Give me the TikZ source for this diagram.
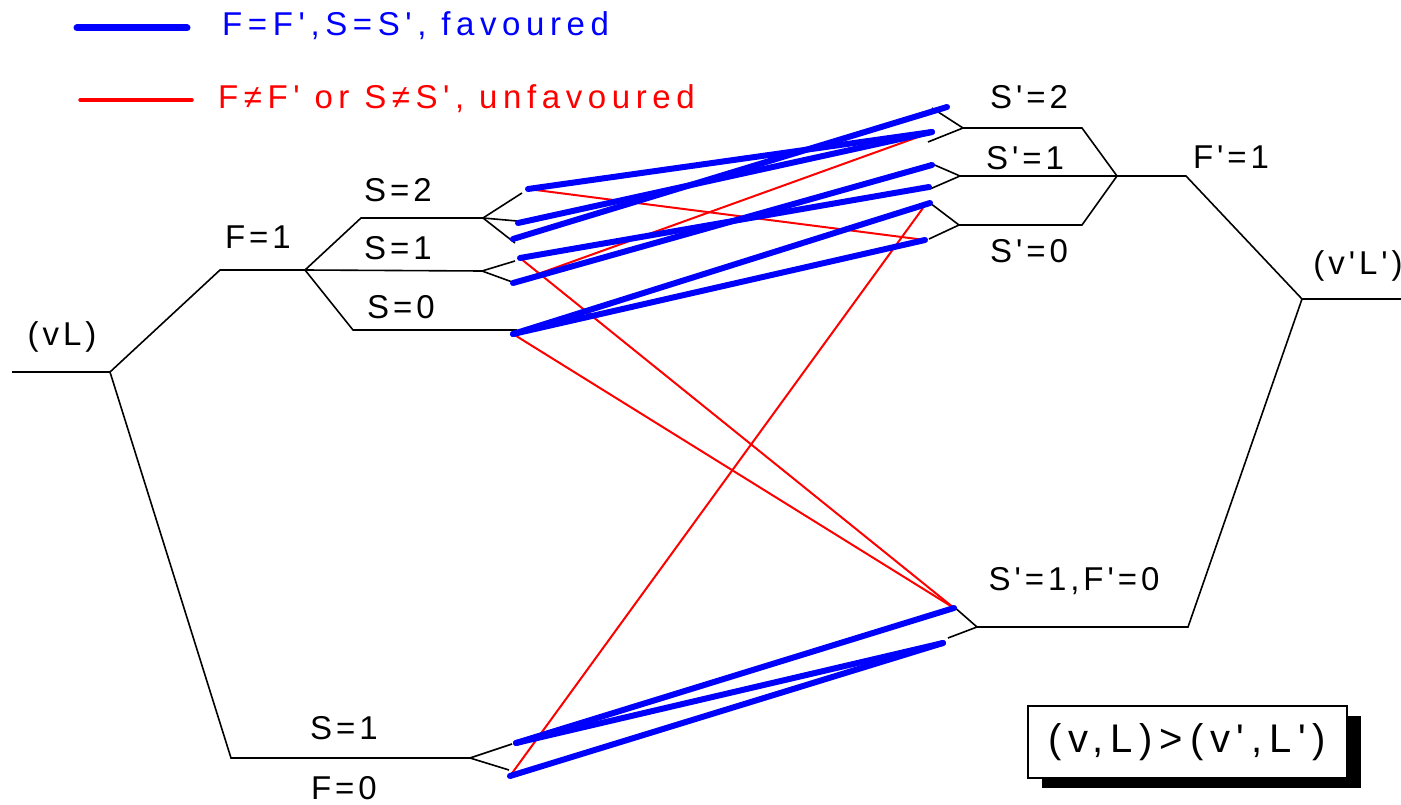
\documentclass[tikz,border=0pt]{standalone}
\usepackage{fontspec}
\usetikzlibrary{shadows}
\newfontfamily\labfont{Liberation Sans}[LetterSpace=12]
\newfontfamily\legfont{Liberation Sans}[LetterSpace=17]
\definecolor{favblue}{RGB}{0,0,255}
\definecolor{unfred}{RGB}{255,0,0}
\begin{document}
\begin{tikzpicture}[x=1pt,y=-1pt,
  level/.style={line width=1.6pt, black},
  fav/.style={line width=6pt, favblue, line cap=round},
  unf/.style={line width=2pt, unfred},
  lab/.style={font=\labfont\fontsize{33}{38}\selectfont, inner sep=0pt},
  legtext/.style={font=\legfont\fontsize{33}{38}\selectfont, inner sep=0pt, anchor=west}]
\useasboundingbox (0,0) rectangle (1401,805);
% ---------- left levels ----------
\coordinate (vLl) at (12,372);
\coordinate (vL) at (110,372);
\coordinate (F1l) at (220,270);
\coordinate (F1r) at (305,270);
\coordinate (F0l) at (231,758);
\coordinate (F0r) at (470,758);
\coordinate (S2l) at (361,218);
\coordinate (S2r) at (483,218);
\coordinate (S1r) at (482,271);
\coordinate (S0l) at (353,330);
\coordinate (S0r) at (517,330);
% sublevel tips (left)
\coordinate (ta1) at (522,193);
\coordinate (ta2) at (517,221);
\coordinate (ta3) at (515,243);
\coordinate (tb1) at (515,261);
\coordinate (tb2) at (515,283);
\coordinate (td1) at (512,744);
\coordinate (td2) at (509,770);
% ---------- right levels ----------
\coordinate (Sp2l) at (963,128);
\coordinate (Sp2r) at (1082,128);
\coordinate (Sp1l) at (960,176);
\coordinate (Fp1l) at (1117,176);
\coordinate (Fp1r) at (1186,176);
\coordinate (Sp0l) at (959,225);
\coordinate (Sp0r) at (1082,225);
\coordinate (vpL) at (1302,299);
\coordinate (vpLr) at (1401,299);
\coordinate (Fp0r) at (1188,627);
\coordinate (Fp0l) at (977,627);
\coordinate (tA1) at (932,108);
\coordinate (tA2) at (928,142);
\coordinate (tB1) at (930,163);
\coordinate (tB2) at (930,189);
\coordinate (tC1) at (930,203);
\coordinate (tC2) at (929,239);
\coordinate (tD1) at (953,606);
\coordinate (tD2) at (948,638);
% ---------- transition end points ----------
\coordinate (a1) at (528,189);
\coordinate (a2) at (518,223);
\coordinate (a3) at (513,239);
\coordinate (b1) at (520,258);
\coordinate (b2) at (513,283);
\coordinate (c)  at (513,334);
\coordinate (d1) at (516,743);
\coordinate (d2) at (510,776);
\coordinate (A1) at (947,107);
\coordinate (A2) at (932,132);
\coordinate (B1) at (932,165);
\coordinate (B2) at (929,187);
\coordinate (C1) at (930,203);
\coordinate (C2) at (925,240);
\coordinate (D1) at (954,608);
\coordinate (D2) at (943,643);
\coordinate (Cx) at (923,208);
% ---------- black level lines ----------
\draw[level] (vLl) -- (vL) -- (F1l) -- (F1r);
\draw[level] (vL) -- (F0l) -- (F0r);
\draw[level] (F0r) -- (td1);
\draw[level] (F0r) -- (td2);
\draw[level] (F1r) -- (S2l) -- (S2r);
\draw[level] (F1r) -- (S1r);
\draw[level] (F1r) -- (S0l) -- (S0r);
\draw[level] (S2r) -- (ta1);
\draw[level] (S2r) -- (ta2);
\draw[level] (S2r) -- (ta3);
\draw[level] (S1r) -- (tb1);
\draw[level] (S1r) -- (tb2);
\draw[level] (tA1) -- (Sp2l) -- (tA2);
\draw[level] (Sp2l) -- (Sp2r) -- (Fp1l);
\draw[level] (tB1) -- (Sp1l) -- (tB2);
\draw[level] (Sp1l) -- (Fp1l);
\draw[level] (tC1) -- (Sp0l) -- (tC2);
\draw[level] (Sp0l) -- (Sp0r) -- (Fp1l);
\draw[level] (Fp1l) -- (Fp1r) -- (vpL) -- (vpLr);
\draw[level] (vpL) -- (Fp0r) -- (Fp0l);
\draw[level] (tD1) -- (Fp0l) -- (tD2);
% ---------- unfavoured transitions ----------
\draw[unf] (a1) -- (C2);
\draw[unf] (b2) -- (A2);
\draw[unf] (b1) -- (D1);
\draw[unf] (c) -- (D1);
\draw[unf] (d2) -- (Cx);
% ---------- favoured transitions ----------
\draw[fav] (a1) -- (A2);
\draw[fav] (a2) -- (A2);
\draw[fav] (a3) -- (A1);
\draw[fav] (b1) -- (B2);
\draw[fav] (b2) -- (B1);
\draw[fav] (c) -- (C1);
\draw[fav] (c) -- (C2);
\draw[fav] (d1) -- (D1);
\draw[fav] (d1) -- (D2);
\draw[fav] (d2) -- (D2);
% ---------- labels ----------
\node[lab] (lvL) at (62,337) {(vL)};
\node[lab] (lF1) at (258,237) {F=1};
\node[lab] (lS2) at (398,190) {S=2};
\node[lab] (lS1) at (398,248) {S=1};
\node[lab] (lS0) at (401,307) {S=0};
\node[lab] (lS1b) at (344,728) {S=1};
\node[lab] (lF0) at (344,788) {F=0};
\node[lab] (lSp2) at (1029,97) {S'=2};
\node[lab] (lSp1) at (1025,158) {S'=1};
\node[lab] (lSp0) at (1029,251) {S'=0};
\node[lab] (lFp1) at (1231,157) {F'=1};
\node[lab] (lvpL) at (1358,266) {(v'L')};
\node[lab] (lSF) at (1074,581) {S'=1,F'=0};
% ---------- legend ----------
\coordinate (lb1) at (77,28);
\coordinate (lb2) at (187,28);
\coordinate (lr1) at (80,100);
\coordinate (lr2) at (192,100);
\draw[line width=7pt, favblue, line cap=round] (lb1) -- (lb2);
\draw[line width=3.5pt, unfred, line cap=round] (lr1) -- (lr2);
\node[legtext, text=favblue] (legb) at (222,26) {F=F',S=S', favoured};
\node[legtext, text=unfred] (legr) at (218,99) {F≠F' or S≠S', unfavoured};
% ---------- box ----------
\node[draw=black, line width=1.5pt, fill=white, minimum width=319pt, minimum height=72pt,
  inner sep=0pt, font=\legfont\fontsize{40}{46}\selectfont,
  drop shadow={shadow xshift=14pt, shadow yshift=-10pt, fill=black, opacity=1}]
  (box) at (1187.5,742) {(v,L)>(v',L')};
\end{tikzpicture}
\end{document}
